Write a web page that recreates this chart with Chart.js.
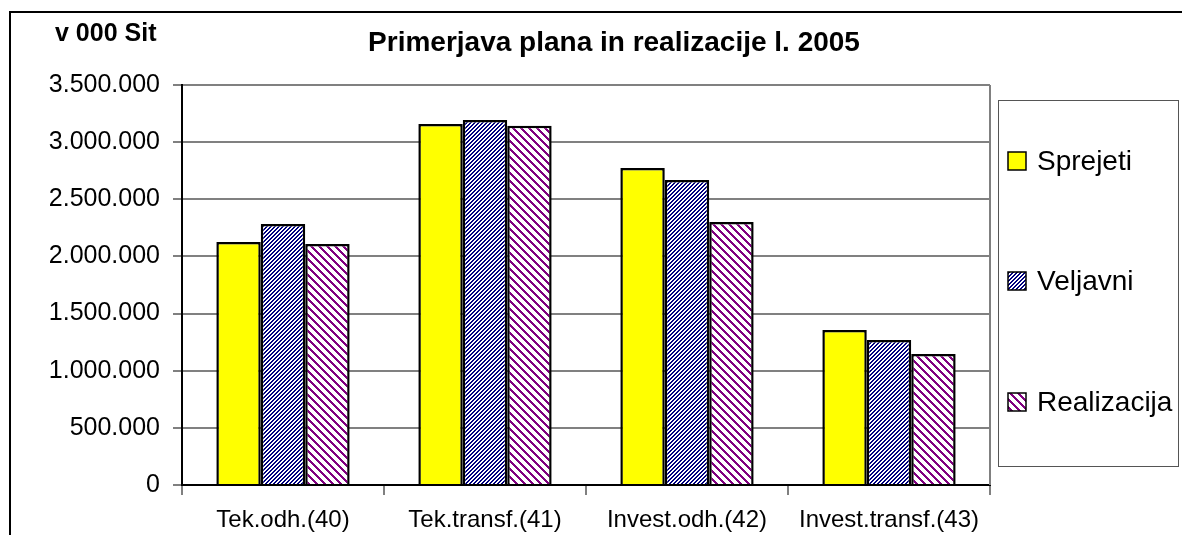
<!DOCTYPE html>
<html>
<head>
<meta charset="utf-8">
<title>Primerjava plana in realizacije l. 2005</title>
<script src="https://cdn.jsdelivr.net/npm/chart.js@4.4.1/dist/chart.umd.min.js"></script>
<style>
    html, body { margin: 0; padding: 0; background: #fff; }
    #myChart { display: block; }
</style>
</head>
<body>
<canvas id="myChart" width="1182" height="535"></canvas>
<script>
const kategorije = ["Tek.odh.(40)", "Tek.transf.(41)", "Invest.odh.(42)", "Invest.transf.(43)"];
const sprejeti = [2126000, 3159000, 2774000, 1356000];
const veljavni = [2284000, 3194000, 2669000, 1269000];
const realizacija = [2109000, 3144000, 2301000, 1146000];
const serije = ["Sprejeti", "Veljavni", "Realizacija"];
const naslov = "Primerjava plana in realizacije l. 2005";
const enota = "v 000 Sit";

const FONT = "'Liberation Sans', Arial, sans-serif";

// crtasti vzorci kot v excelu
function narediVzorec(size, barva, jeCrta) {
    let c = document.createElement("canvas");
    c.width = size;
    c.height = size;
    let ctx = c.getContext("2d");
    ctx.fillStyle = "#ffffff";
    ctx.fillRect(0, 0, size, size);
    ctx.fillStyle = barva;
    for (let y = 0; y < size; y++) {
        for (let x = 0; x < size; x++) {
            if (jeCrta(x, y)) ctx.fillRect(x, y, 1, 1);
        }
    }
    return ctx.createPattern(c, "repeat");
}

const modriVzorec = narediVzorec(4, "#000080", (x, y) => ((x + y) % 4) < 2);
const vijolicniVzorec = narediVzorec(8, "#800080", (x, y) => (((x - y) % 8) + 8) % 8 < 3);

function formatStevilo(v) {
    return String(v).replace(/\B(?=(\d{3})+(?!\d))/g, ".");
}

const okvirPlugin = {
    id: "okvir",
    afterDraw(chart) {
        const ctx = chart.ctx;
        const area = chart.chartArea;
        ctx.save();

        // zunanji okvir
        ctx.strokeStyle = "#000";
        ctx.lineWidth = 2;
        ctx.strokeRect(10, 12, 1200, 600);

        // desni rob risalne ploskve
        ctx.strokeStyle = "#808080";
        ctx.lineWidth = 2;
        ctx.beginPath();
        ctx.moveTo(area.right, area.top);
        ctx.lineTo(area.right, area.bottom);
        ctx.stroke();

        // naslov in enota
        ctx.fillStyle = "#000";
        ctx.textBaseline = "middle";
        ctx.textAlign = "center";
        ctx.font = "bold 28px " + FONT;
        ctx.fillText(naslov, 614, 43);
        ctx.textAlign = "left";
        ctx.font = "bold 25px " + FONT;
        ctx.fillText(enota, 55, 34);

        // legenda
        ctx.strokeStyle = "#555";
        ctx.lineWidth = 1;
        ctx.strokeRect(998.5, 100.5, 180, 366);
        const yPos = [161, 281, 402];
        ctx.font = "28px " + FONT;
        chart.data.datasets.forEach(function(ds, i) {
            ctx.fillStyle = ds.backgroundColor;
            ctx.fillRect(1008, yPos[i] - 9, 18, 18);
            ctx.strokeStyle = "#000";
            ctx.lineWidth = 1.5;
            ctx.strokeRect(1008, yPos[i] - 9, 18, 18);
            ctx.fillStyle = "#000";
            ctx.fillText(ds.label, 1037, yPos[i] + 1);
        });
        ctx.restore();
    }
};

const data = {
    labels: kategorije,
    datasets: [
        { label: serije[0], data: sprejeti, backgroundColor: "#ffff00" },
        { label: serije[1], data: veljavni, backgroundColor: modriVzorec },
        { label: serije[2], data: realizacija, backgroundColor: vijolicniVzorec }
    ]
};

data.datasets.forEach(function(ds) {
    ds.borderColor = "#000";
    ds.borderWidth = 2.5;
    ds.categoryPercentage = 0.66;
    ds.barPercentage = 1;
});

const config = {
    type: "bar",
    data: data,
    options: {
        responsive: false,
        animation: false,
        layout: {
            padding: { left: 0, right: 192, top: 85, bottom: 0 }
        },
        plugins: {
            legend: { display: false },
            title: { display: false },
            tooltip: { enabled: false }
        },
        scales: {
            x: {
                afterFit: function(scale) { scale.height = 50; },
                grid: {
                    offset: true,
                    drawOnChartArea: false,
                    tickLength: 10,
                    color: "#808080",
                    lineWidth: 2
                },
                border: { color: "#000", width: 2 },
                ticks: {
                    color: "#000",
                    padding: 11,
                    font: { family: FONT, size: 24 }
                }
            },
            y: {
                min: 0,
                max: 3500000,
                afterFit: function(scale) { scale.width = 182; },
                grid: {
                    color: "#808080",
                    lineWidth: 2,
                    tickLength: 9
                },
                border: { color: "#000", width: 2 },
                ticks: {
                    stepSize: 500000,
                    color: "#000",
                    padding: 13,
                    font: { family: FONT, size: 25 },
                    callback: function(v) { return formatStevilo(v); }
                }
            }
        }
    },
    plugins: [okvirPlugin]
};

let myChart = new Chart(document.getElementById("myChart"), config);
</script>
</body>
</html>
